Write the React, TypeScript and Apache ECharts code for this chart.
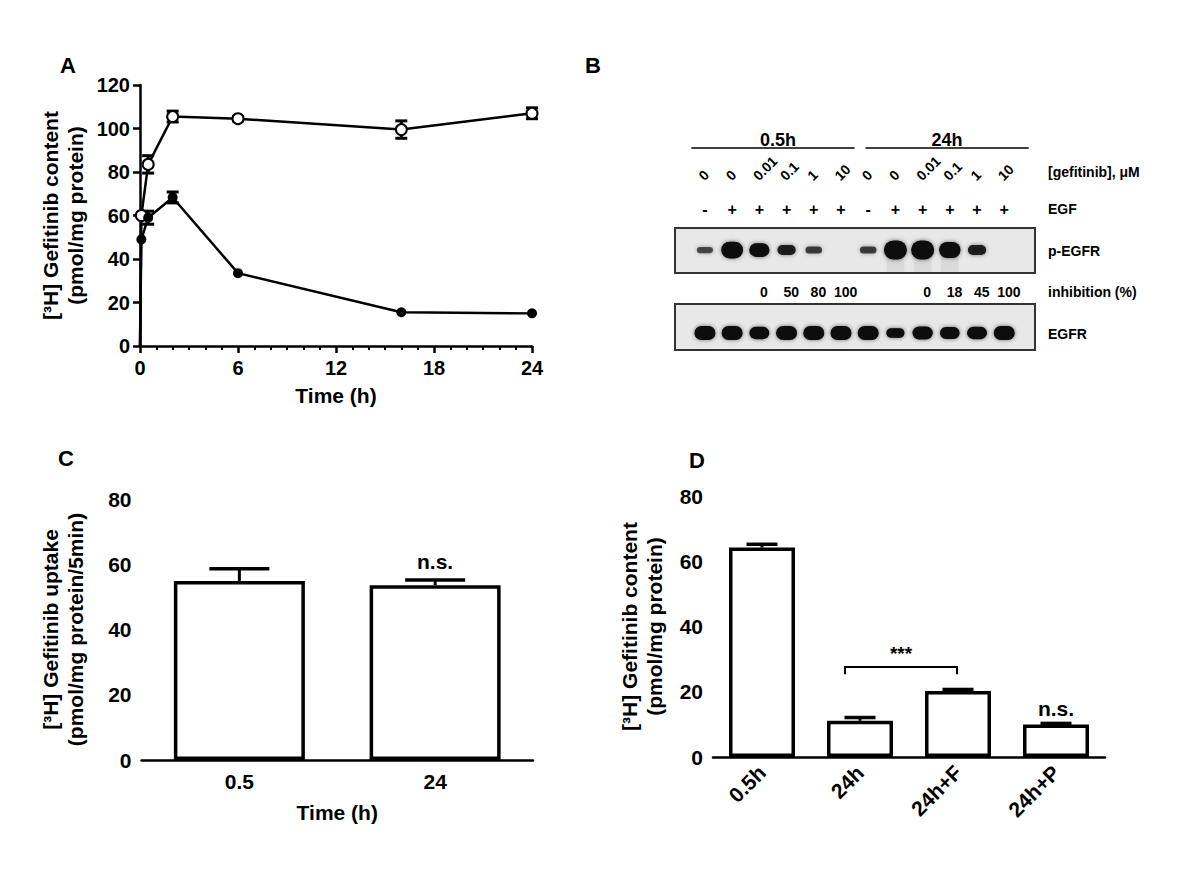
import { useEffect, useRef } from 'react';
import * as echarts from 'echarts';

const FONT = '"Liberation Sans", Arial, Helvetica, sans-serif';

// ---------- Panel A: [3H] gefitinib content vs time ----------
const timeHours = [0, 0.083, 0.5, 2, 6, 16, 24];
const totalContent = [0, 60, 83.5, 105.5, 104.5, 99.5, 107];
const totalSem = [0, 0, 4, 2.5, 1, 4, 2.5];
const retainedContent = [0, 49, 59, 68.3, 33.5, 15.5, 15];
const retainedSem = [0, 0, 3, 2.5, 0, 0, 0];

// ---------- Panel B: western blot ----------
const blotTimes = ['0.5h', '24h'];
const gefitinibDose = ['0', '0', '0.01', '0.1', '1', '10', '0', '0', '0.01', '0.1', '1', '10'];
const egfTreatment = ['-', '+', '+', '+', '+', '+', '-', '+', '+', '+', '+', '+'];
const inhibitionPct = ['', '', '0', '50', '80', '100', '', '', '0', '18', '45', '100'];
const pEgfrSignal = [0.15, 0.85, 0.65, 0.4, 0.2, 0, 0.2, 1, 1, 0.8, 0.4, 0];
const egfrSignal = [1, 1, 0.85, 1, 1, 1, 1, 0.6, 0.9, 0.8, 0.85, 1];
const blotRowLabels = ['[gefitinib], \u03bcM', 'EGF', 'p-EGFR', 'inhibition (%)', 'EGFR'];

// ---------- Panel C: uptake ----------
const uptakeTimes = ['0.5', '24'];
const uptakeMean = [54.9, 53.6];
const uptakeSem = [3.7, 1.6];
const uptakeSig = ['', 'n.s.'];

// ---------- Panel D: content ----------
const contentGroups = ['0.5h', '24h', '24h+F', '24h+P'];
const contentMean = [64.2, 11.1, 20.2, 10.0];
const contentSem = [1.0, 1.0, 0.5, 0.3];
const contentSig = ['', '', '', 'n.s.'];
const bracketPair = [1, 2];
const bracketLevel = 27.6;
const bracketLabel = '***';

// blot layout (lane axis units / row units)
const BLOT_MIN = -1.1;
const BLOT_MAX = 12.13;
const ROW = {
  time: 10, rule: 18, dose: 48, egf: 79,
  box1Top: 98, box1Bot: 143, band1: 120,
  inh: 162, box2Top: 174, box2Bot: 220, band2: 203,
};
const RIGHT_ROWS = [42, 79, 121, 162, 204];

const txt = (size: number, bold = true) => ({
  fontSize: size,
  fontWeight: bold ? 'bold' : 'normal',
  fontFamily: FONT,
  fill: '#000',
});

const axisBase = {
  axisLine: { lineStyle: { color: '#000', width: 2.5 } },
  axisTick: { length: 7, lineStyle: { color: '#000', width: 2.5 } },
  splitLine: { show: false },
};

const labelStyle = (size: number, margin: number) => ({
  fontSize: size,
  fontWeight: 'bold',
  fontFamily: FONT,
  color: '#000',
  margin,
});

const nameStyle = {
  fontSize: 21,
  fontWeight: 'bold',
  fontFamily: FONT,
  color: '#000',
  lineHeight: 25,
};

function errRenderA(params: any, api: any) {
  const x = api.value(0);
  const m = api.value(1);
  const s = api.value(2);
  if (!s) return null;
  const top = api.coord([x, m + s]);
  const bot = api.coord([x, m - s]);
  const hw = 6;
  const st = { stroke: '#000', lineWidth: 3 };
  return {
    type: 'group',
    children: [
      { type: 'line', shape: { x1: top[0], y1: top[1], x2: bot[0], y2: bot[1] }, style: st },
      { type: 'line', shape: { x1: top[0] - hw, y1: top[1], x2: top[0] + hw, y2: top[1] }, style: st },
      { type: 'line', shape: { x1: bot[0] - hw, y1: bot[1], x2: bot[0] + hw, y2: bot[1] }, style: st },
    ],
  };
}

function barErr(capHalf: number, sig: string[], sigGap: number) {
  return (params: any, api: any) => {
    const i = api.value(0);
    const m = api.value(1);
    const s = api.value(2);
    const base = api.coord([i, m]);
    const top = api.coord([i, m + s]);
    const st = { stroke: '#000', lineWidth: 3.5 };
    const children: any[] = [
      { type: 'line', shape: { x1: base[0], y1: base[1], x2: top[0], y2: top[1] }, style: { stroke: '#000', lineWidth: 3 } },
      { type: 'line', shape: { x1: top[0] - capHalf, y1: top[1], x2: top[0] + capHalf, y2: top[1] }, style: st },
    ];
    const label = sig[params.dataIndex];
    if (label) {
      children.push({
        type: 'text',
        x: top[0],
        y: top[1] - sigGap,
        style: { text: label, textAlign: 'center', textVerticalAlign: 'middle', ...txt(21) },
      });
    }
    return { type: 'group', children };
  };
}

function bracketRender(params: any, api: any) {
  const a = api.value(0);
  const b = api.value(1);
  const lvl = api.value(2);
  const p1 = api.coord([a, lvl]);
  const p2 = api.coord([b, lvl]);
  const low = api.coord([a, lvl - 2.2]);
  const x1 = p1[0] - 15;
  const x2 = p2[0] - 1;
  const st = { stroke: '#000', lineWidth: 2 };
  return {
    type: 'group',
    children: [
      { type: 'polyline', shape: { points: [[x1, low[1]], [x1, p1[1]], [x2, p1[1]], [x2, low[1]]] }, style: { ...st, fill: 'none' } },
      {
        type: 'text',
        x: (x1 + x2) / 2,
        y: p1[1] - 13,
        style: { text: bracketLabel, textAlign: 'center', textVerticalAlign: 'middle', ...txt(19) },
      },
    ],
  };
}

function bandRect(c: number[], w: number, h: number, opacity: number) {
  return {
    type: 'rect',
    shape: { x: c[0] - w / 2, y: c[1] - h / 2, width: w, height: h, r: h / 2 },
    style: { fill: '#080808', opacity, shadowBlur: 4, shadowColor: 'rgba(0,0,0,0.55)' },
  };
}

function laneRender(params: any, api: any) {
  const lane = api.value(0);
  const i = params.dataIndex;
  const children: any[] = [];
  const d = api.coord([lane, ROW.dose]);
  children.push({
    type: 'text',
    x: d[0] - 4,
    y: d[1],
    rotation: Math.PI / 4,
    style: { text: gefitinibDose[i], textAlign: 'left', textVerticalAlign: 'middle', ...txt(14) },
  });
  const e = api.coord([lane, ROW.egf]);
  children.push({
    type: 'text',
    x: e[0],
    y: e[1],
    style: { text: egfTreatment[i], textAlign: 'center', textVerticalAlign: 'middle', ...txt(16) },
  });
  const s1 = pEgfrSignal[i];
  if (s1 > 0) {
    const c = api.coord([lane, ROW.band1]);
    if (s1 >= 0.8 && i >= 6) {
      children.push({
        type: 'rect',
        shape: { x: c[0] - 9, y: c[1] + 6, width: 18, height: 16 },
        style: { fill: '#000', opacity: 0.05, shadowBlur: 6, shadowColor: 'rgba(0,0,0,0.2)' },
      });
    }
    children.push(bandRect(c, 15 + 8 * s1, 4 + 15 * s1, Math.min(1, 0.45 + 1.1 * s1)));
  }
  const s2 = egfrSignal[i];
  if (s2 > 0) {
    const c = api.coord([lane, ROW.band2]);
    children.push(bandRect(c, 14 + 7 * s2, 3 + 11 * s2, Math.min(1, 0.45 + 1.1 * s2)));
  }
  if (inhibitionPct[i]) {
    const p = api.coord([lane + 0.17, ROW.inh]);
    children.push({
      type: 'text',
      x: p[0],
      y: p[1],
      style: { text: inhibitionPct[i], textAlign: 'center', textVerticalAlign: 'middle', ...txt(14) },
    });
  }
  return { type: 'group', children };
}

function blotFrameRender(params: any, api: any) {
  const children: any[] = [];
  const box = (top: number, bot: number) => {
    const a = api.coord([BLOT_MIN, top]);
    const b = api.coord([BLOT_MAX, bot]);
    return {
      type: 'rect',
      shape: { x: a[0], y: a[1], width: b[0] - a[0], height: b[1] - a[1] },
      style: { fill: '#e8e8e8', stroke: '#333', lineWidth: 2 },
    };
  };
  children.push(box(ROW.box1Top, ROW.box1Bot));
  children.push(box(ROW.box2Top, ROW.box2Bot));
  const spans = [[-0.5, 5.5], [5.9, 11.9]];
  blotTimes.forEach((t, k) => {
    const a = api.coord([spans[k][0], ROW.rule]);
    const b = api.coord([spans[k][1], ROW.rule]);
    children.push({ type: 'line', shape: { x1: a[0], y1: a[1], x2: b[0], y2: b[1] }, style: { stroke: '#000', lineWidth: 1.3 } });
    const c = api.coord([(spans[k][0] + spans[k][1]) / 2, ROW.time]);
    children.push({
      type: 'text',
      x: c[0] + (k === 0 ? 5 : 0),
      y: c[1],
      style: { text: t, textAlign: 'center', textVerticalAlign: 'middle', ...txt(18) },
    });
  });
  blotRowLabels.forEach((lbl, k) => {
    const p = api.coord([BLOT_MAX, RIGHT_ROWS[k]]);
    children.push({
      type: 'text',
      x: p[0] + 13,
      y: p[1],
      style: { text: lbl, textAlign: 'left', textVerticalAlign: 'middle', ...txt(14) },
    });
  });
  return { type: 'group', children };
}

export default function App() {
  const ref = useRef<HTMLDivElement>(null);

  useEffect(() => {
    if (!ref.current) return;
    const chart = echarts.init(ref.current, null, { renderer: 'svg' });

    const option: any = {
      animation: false,
      backgroundColor: '#fff',
      grid: [
        { left: 140, top: 85, width: 392, height: 261 },
        { left: 141.5, top: 499, width: 391.5, height: 261 },
        { left: 713, top: 496, width: 392, height: 261 },
        { left: 675, top: 130, width: 360, height: 230 },
      ],
      xAxis: [
        {
          ...axisBase,
          type: 'value', gridIndex: 0, min: 0, max: 24, interval: 6,
          minorTick: { show: true, splitNumber: 6, length: 4, lineStyle: { color: '#000', width: 2 } },
          axisLabel: labelStyle(20, 12),
          name: 'Time (h)', nameLocation: 'middle', nameGap: 37, nameTextStyle: nameStyle,
        },
        {
          ...axisBase,
          type: 'category', gridIndex: 1, data: uptakeTimes,
          axisTick: { ...axisBase.axisTick, alignWithLabel: true },
          axisLabel: labelStyle(21, 11),
          name: 'Time (h)', nameLocation: 'middle', nameGap: 40, nameTextStyle: nameStyle,
        },
        {
          ...axisBase,
          type: 'category', gridIndex: 2, data: contentGroups,
          axisTick: { ...axisBase.axisTick, alignWithLabel: true },
          axisLabel: { ...labelStyle(21, 12), rotate: 45 },
        },
        { type: 'value', gridIndex: 3, min: BLOT_MIN, max: BLOT_MAX, show: false },
      ],
      yAxis: [
        {
          ...axisBase,
          type: 'value', gridIndex: 0, min: 0, max: 120, interval: 20,
          axisLabel: labelStyle(20, 10),
          name: '[\u00b3H] Gefitinib content\n(pmol/mg protein)', nameLocation: 'middle', nameGap: 52,
          nameTextStyle: nameStyle,
        },
        {
          ...axisBase,
          type: 'value', gridIndex: 1, min: 0, max: 80, interval: 20,
          axisLabel: labelStyle(21, 10),
          name: '[\u00b3H] Gefitinib uptake\n(pmol/mg protein/5min)', nameLocation: 'middle', nameGap: 54,
          nameTextStyle: nameStyle,
        },
        {
          ...axisBase,
          type: 'value', gridIndex: 2, min: 0, max: 80, interval: 20,
          axisLabel: labelStyle(21, 10),
          name: '[\u00b3H] Gefitinib content\n(pmol/mg protein)', nameLocation: 'middle', nameGap: 46,
          nameTextStyle: nameStyle,
        },
        { type: 'value', gridIndex: 3, min: 0, max: 230, inverse: true, show: false },
      ],
      series: [
        {
          type: 'custom', xAxisIndex: 0, yAxisIndex: 0, z: 2,
          renderItem: errRenderA, encode: { x: 0, y: 1 },
          data: timeHours.map((t, k) => [t, totalContent[k], totalSem[k]]),
        },
        {
          type: 'custom', xAxisIndex: 0, yAxisIndex: 0, z: 2,
          renderItem: errRenderA, encode: { x: 0, y: 1 },
          data: timeHours.map((t, k) => [t, retainedContent[k], retainedSem[k]]),
        },
        {
          type: 'line', xAxisIndex: 0, yAxisIndex: 0, z: 3,
          symbol: 'emptyCircle', symbolSize: 11,
          lineStyle: { color: '#000', width: 2.5 },
          itemStyle: { color: '#000', borderColor: '#000', borderWidth: 2.5 },
          data: timeHours.map((t, k) =>
            k === 0 ? { value: [t, totalContent[k]], symbol: 'none' } : [t, totalContent[k]]),
        },
        {
          type: 'line', xAxisIndex: 0, yAxisIndex: 0, z: 3,
          symbol: 'circle', symbolSize: 10,
          lineStyle: { color: '#000', width: 2.5 },
          itemStyle: { color: '#000' },
          data: timeHours.map((t, k) =>
            k === 0 ? { value: [t, retainedContent[k]], symbol: 'none' } : [t, retainedContent[k]]),
        },
        {
          type: 'custom', xAxisIndex: 1, yAxisIndex: 1, z: 1,
          renderItem: barErr(30, uptakeSig, 18), encode: { x: 0, y: 1 },
          data: uptakeMean.map((m, k) => [k, m, uptakeSem[k]]),
        },
        {
          type: 'bar', xAxisIndex: 1, yAxisIndex: 1, z: 2, barWidth: 131,
          itemStyle: { color: '#fff', borderColor: '#000', borderWidth: 3.5 },
          data: uptakeMean,
        },
        {
          type: 'custom', xAxisIndex: 2, yAxisIndex: 2, z: 1,
          renderItem: barErr(15.5, contentSig, 15), encode: { x: 0, y: 1 },
          data: contentMean.map((m, k) => [k, m, contentSem[k]]),
        },
        {
          type: 'bar', xAxisIndex: 2, yAxisIndex: 2, z: 2, barWidth: 66,
          itemStyle: { color: '#fff', borderColor: '#000', borderWidth: 3.5 },
          data: contentMean,
        },
        {
          type: 'custom', xAxisIndex: 2, yAxisIndex: 2, z: 3,
          renderItem: bracketRender, encode: { x: 0, y: 2 },
          data: [[bracketPair[0], bracketPair[1], bracketLevel]],
        },
        {
          type: 'custom', xAxisIndex: 3, yAxisIndex: 3, z: 1,
          renderItem: blotFrameRender, encode: { x: 0, y: 1 },
          data: [[0, 0]],
        },
        {
          type: 'custom', xAxisIndex: 3, yAxisIndex: 3, z: 2,
          renderItem: laneRender, encode: { x: 0, y: 1 },
          data: gefitinibDose.map((_, k) => [k, ROW.band1]),
        },
      ],
      graphic: [
        { type: 'text', x: 68, y: 65, style: { text: 'A', textAlign: 'center', textVerticalAlign: 'middle', ...txt(22) } },
        { type: 'text', x: 593, y: 65, style: { text: 'B', textAlign: 'center', textVerticalAlign: 'middle', ...txt(22) } },
        { type: 'text', x: 66, y: 458, style: { text: 'C', textAlign: 'center', textVerticalAlign: 'middle', ...txt(22) } },
        { type: 'text', x: 697, y: 460, style: { text: 'D', textAlign: 'center', textVerticalAlign: 'middle', ...txt(22) } },
      ],
    };

    chart.setOption(option);
    return () => chart.dispose();
  }, []);

  return (
    <div
      ref={ref}
      style={{ position: 'absolute', left: 0, top: 0, width: 1200, height: 870, background: '#fff' }}
    />
  );
}
